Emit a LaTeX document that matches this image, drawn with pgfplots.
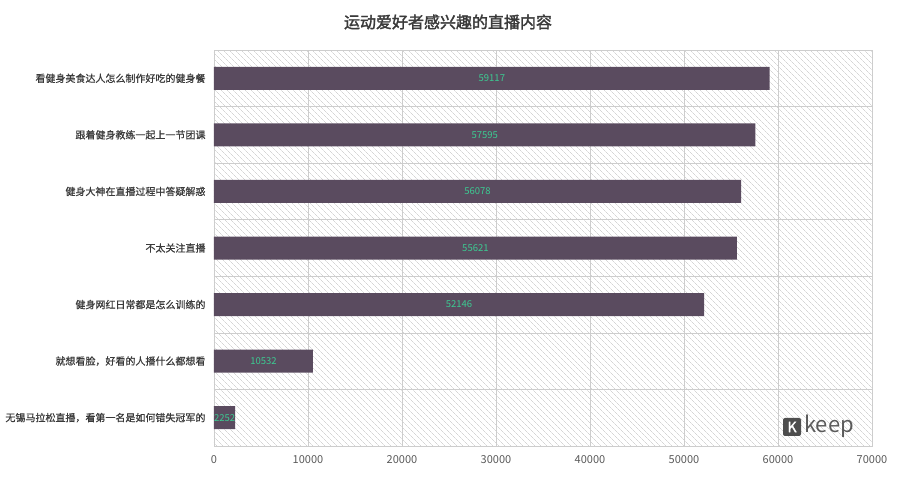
\documentclass[border=0pt]{standalone}
\usepackage{pgfplots}
\pgfplotsset{compat=1.18}
\usetikzlibrary{patterns.meta}
\usepackage{fontspec}
\setmainfont{Noto Sans CJK SC}[AutoFakeBold=2]
\newfontfamily\medfont{Noto Sans CJK SC}[FakeBold=0.7]
\definecolor{barcol}{HTML}{5A4B5F}
\definecolor{numcol}{HTML}{3CCB92}
\definecolor{gridcol}{HTML}{CDCDCD}
\definecolor{txtcol}{HTML}{3A3A3A}
\definecolor{tickcol}{HTML}{5A5A5A}

\begin{document}
\begin{tikzpicture}
\begin{axis}[
    at={(214pt,32pt)}, anchor=south west,
    width=658pt, height=396pt, scale only axis,
    bar width=23pt,
    xmin=0, xmax=70000, ymin=-0.5, ymax=6.5, y dir=reverse,
    xtick={0,10000,...,70000},
    ytick={0,...,6},
    yticklabels={看健身美食达人怎么制作好吃的健身餐,跟着健身教练一起上一节团课,健身大神在直播过程中答疑解惑,不太关注直播,健身网红日常都是怎么训练的,就想看脸，好看的人播什么都想看,无锡马拉松直播，看第一名是如何错失冠军的},
    minor ytick={0.5,1.5,...,5.5},
    xmajorgrids, yminorgrids,
    grid style={gridcol, line width=0.6pt},
    minor grid style={gridcol, line width=0.6pt},
    axis line style={gridcol, line width=0.6pt},
    major tick length=0pt, minor tick length=0pt,
    scaled x ticks=false,
    /pgf/number format/assume math mode=true,
    xticklabel style={/pgf/number format/1000 sep={}, font=\fontsize{11}{13}\selectfont, text=tickcol, yshift=-6pt},
    yticklabel style={font=\medfont\fontsize{10}{12}\selectfont, text=txtcol, xshift=-5pt},
    axis background/.style={pattern={Lines[angle=-45,distance=4pt,line width=0.45pt]}, pattern color=gray!50},
]
\addplot[xbar, fill=barcol, draw=none] coordinates {
    (59117,0) (57595,1) (56078,2) (55621,3) (52146,4) (10532,5) (2252,6)
};
% value labels at the middle of each bar
\addplot[only marks, mark=none, nodes near coords, point meta=explicit symbolic,
    every node near coord/.append style={anchor=center, text=numcol, font=\fontsize{9.5}{11}\selectfont}]
    table[meta=lab] {
x y lab
29558.5 0 59117
28797.5 1 57595
28039 2 56078
27810.5 3 55621
26073 4 52146
5266 5 10532
1126 6 2252
};
\end{axis}
\node[font=\bfseries\fontsize{16}{18}\selectfont, text=txtcol] at (448pt,456pt) {运动爱好者感兴趣的直播内容};
\node[fill=txtcol!90, rounded corners=2pt, minimum size=18pt, inner sep=0pt, text=white, font=\bfseries\fontsize{14}{15}\selectfont] at (792pt,51pt) {K};
\node[anchor=west, text=tickcol, font=\fontsize{22}{24}\selectfont, inner sep=0pt] at (804pt,52pt) {keep};
\pgfresetboundingbox
\useasboundingbox (0,0) rectangle (897pt,478pt);
\end{tikzpicture}
\end{document}
